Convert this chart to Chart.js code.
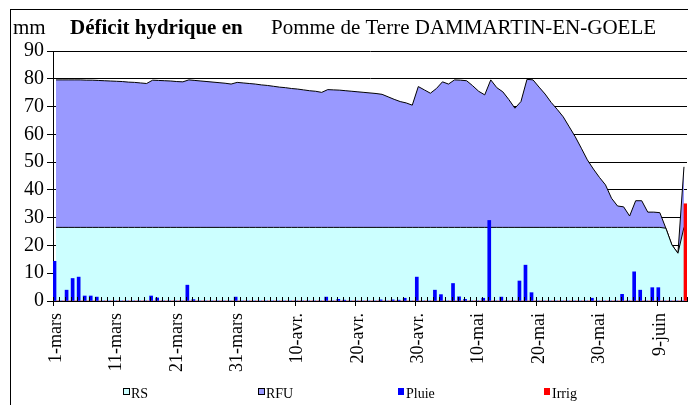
<!DOCTYPE html>
<html>
<head>
<meta charset="utf-8">
<script src="https://cdn.jsdelivr.net/npm/chart.js@4.4.1/dist/chart.umd.min.js"></script>
<style>
  body { margin: 0; background: #fff; }
  canvas { display: block; }
</style>
</head>
<body>
<canvas id="chart" width="688" height="405"></canvas>
<script>
// dates 1-mars .. 13-juin, one per day
const months = [['mars', 31], ['avr.', 30], ['mai', 31], ['juin', 13]];
const days = [];
months.forEach(([m, n]) => { for (let d = 1; d <= n; d++) days.push(d + '-' + m); });

const yTicks = [0, 10, 20, 30, 40, 50, 60, 70, 80, 90];

// RS (réserve de survie)
const rs = [
  26.5, 26.5, 26.5, 26.5, 26.5, 26.5, 26.5, 26.5, 26.5, 26.5,
  26.5, 26.5, 26.5, 26.5, 26.5, 26.5, 26.5, 26.5, 26.5, 26.5,
  26.5, 26.5, 26.5, 26.5, 26.5, 26.5, 26.5, 26.5, 26.5, 26.5,
  26.5, 26.5, 26.5, 26.5, 26.5, 26.5, 26.5, 26.5, 26.5, 26.5,
  26.5, 26.5, 26.5, 26.5, 26.5, 26.5, 26.5, 26.5, 26.5, 26.5,
  26.5, 26.5, 26.5, 26.5, 26.5, 26.5, 26.5, 26.5, 26.5, 26.5,
  26.5, 26.5, 26.5, 26.5, 26.5, 26.5, 26.5, 26.5, 26.5, 26.5,
  26.5, 26.5, 26.5, 26.5, 26.5, 26.5, 26.5, 26.5, 26.5, 26.5,
  26.5, 26.5, 26.5, 26.5, 26.5, 26.5, 26.5, 26.5, 26.5, 26.5,
  26.5, 26.5, 26.5, 26.5, 26.5, 26.5, 26.5, 26.5, 26.5, 26.5,
  26.5, 26.2, 20.2, 17.2, 26.5
];

// RFU, stacked on top of RS
const rfu = [
  53.1, 53.1, 53.1, 53.1, 53.1, 53.0, 53.0, 52.9, 52.8, 52.7,
  52.6, 52.5, 52.3, 52.2, 52.0, 51.8, 53.0, 52.9, 52.8, 52.7,
  52.5, 52.4, 53.1, 52.9, 52.7, 52.5, 52.3, 52.1, 51.9, 51.6,
  52.2, 52.0, 51.8, 51.6, 51.3, 51.1, 50.8, 50.5, 50.3, 50.0,
  49.8, 49.5, 49.2, 49.0, 48.6, 49.6, 49.5, 49.4, 49.2, 49.0,
  48.8, 48.6, 48.4, 48.2, 47.9, 47.0, 46.1, 45.3, 44.8, 44.0,
  50.7, 49.5, 48.3, 50.0, 52.4, 51.6, 53.1, 53.0, 52.8, 51.0,
  49.0, 47.7, 53.1, 50.3, 48.8, 46.0, 42.9, 45.3, 53.3, 53.1,
  50.5, 48.0, 45.0, 42.5, 39.8, 36.2, 32.6, 28.5, 24.3, 21.0,
  18.0, 15.3, 10.5, 7.7, 7.4, 4.1, 9.6, 9.6, 5.5, 5.5,
  5.3, 0, 0, 0, 21.8
];

const pluie = [
  14.3, 0, 3.9, 8.1, 8.6, 1.8, 1.8, 1.4, 0, 0,
  0, 0, 0, 0, 0, 0, 1.8, 1.1, 0, 0,
  0, 0, 5.7, 0.5, 0, 0, 0, 0, 0, 0,
  1.4, 0, 0, 0, 0, 0, 0, 0, 0, 0,
  0, 0, 0, 0, 0, 1.4, 0, 0.6, 0.3, 0,
  0, 0, 0, 0, 0.4, 0, 0.4, 0.3, 1.0, 0,
  8.6, 0, 0, 3.9, 2.3, 0, 6.3, 1.5, 0.6, 0,
  0, 1.0, 29, 0, 1.4, 0, 0, 7.2, 12.9, 3.0,
  0, 0, 0, 0, 0, 0, 0, 0, 0, 1.0,
  0, 0, 0, 0, 2.4, 0, 10.5, 3.9, 0, 4.8,
  4.8, 0, 0, 0, 0
];

const irrig = [
  0, 0, 0, 0, 0, 0, 0, 0, 0, 0,
  0, 0, 0, 0, 0, 0, 0, 0, 0, 0,
  0, 0, 0, 0, 0, 0, 0, 0, 0, 0,
  0, 0, 0, 0, 0, 0, 0, 0, 0, 0,
  0, 0, 0, 0, 0, 0, 0, 0, 0, 0,
  0, 0, 0, 0, 0, 0, 0, 0, 0, 0,
  0, 0, 0, 0, 0, 0, 0, 0, 0, 0,
  0, 0, 0, 0, 0, 0, 0, 0, 0, 0,
  0, 0, 0, 0, 0, 0, 0, 0, 0, 0,
  0, 0, 0, 0, 0, 0, 0, 0, 0, 0,
  0, 0, 0, 0, 35
];

const serif = '"Liberation Serif", "Times New Roman", serif';

// frame, titles and legend drawn around the plot
const decorations = {
  id: 'decorations',
  afterDraw(chart) {
    const ctx = chart.ctx;
    ctx.save();
    ctx.strokeStyle = '#000';
    ctx.lineWidth = 1;
    ctx.strokeRect(10.5, 9.5, 700, 500);

    ctx.fillStyle = '#000';
    ctx.textBaseline = 'alphabetic';
    ctx.font = '21px ' + serif;
    ctx.fillText('mm', 13, 34);
    ctx.font = 'bold 21px ' + serif;
    ctx.fillText('Déficit hydrique en', 70, 34);
    ctx.font = '21px ' + serif;
    ctx.fillText('Pomme de Terre DAMMARTIN-EN-GOELE', 271, 34);

    // legend
    const xs = [123, 258, 398, 544];
    ctx.font = '14px ' + serif;
    chart.data.datasets.forEach((ds, i) => {
      const x = xs[i];
      ctx.fillStyle = ds.backgroundColor;
      ctx.fillRect(x, 388, 6, 7);
      if (ds.type === 'line') {
        ctx.strokeStyle = '#000';
        ctx.strokeRect(x + 0.5, 388.5, 6, 6);
      }
      ctx.fillStyle = '#000';
      ctx.fillText(ds.label, x + 8, 398);
    });
    ctx.restore();
  }
};

// small tick marks on every day, longer ones every 10 days
const dayTicks = {
  id: 'dayTicks',
  afterDatasetsDraw(chart) {
    const { ctx, chartArea, scales: { x } } = chart;
    const half = (x.getPixelForValue(1) - x.getPixelForValue(0)) / 2;
    ctx.save();
    ctx.strokeStyle = '#000';
    ctx.lineWidth = 1;
    ctx.beginPath();
    for (let i = 0; i <= days.length; i++) {
      const px = Math.round(x.getPixelForValue(i) - half) + 0.5;
      ctx.moveTo(px, chartArea.bottom);
      ctx.lineTo(px, chartArea.bottom - 4);
      if (i % 10 === 0) {
        ctx.moveTo(px, chartArea.bottom);
        ctx.lineTo(px, chartArea.bottom + 5);
      }
    }
    ctx.stroke();
    ctx.restore();
  }
};

new Chart(document.getElementById('chart'), {
  data: {
    labels: days,
    datasets: [
      {
        type: 'line', label: 'RS', data: rs, stack: 'a', order: 1,
        backgroundColor: '#CCFFFF', borderColor: '#000', borderWidth: 1,
        pointRadius: 0, fill: 'origin', tension: 0
      },
      {
        type: 'line', label: 'RFU', data: rfu, stack: 'a', order: 2,
        backgroundColor: '#9999FF', borderColor: '#000', borderWidth: 1,
        pointRadius: 0, fill: '-1', tension: 0
      },
      {
        type: 'bar', label: 'Pluie', data: pluie, stack: 'p', order: 0,
        backgroundColor: '#0000FF', categoryPercentage: 1, barPercentage: 1
      },
      {
        type: 'bar', label: 'Irrig', data: irrig, stack: 'i', order: 0,
        backgroundColor: '#FF0000', categoryPercentage: 1, barPercentage: 1
      }
    ]
  },
  options: {
    responsive: false,
    animation: false,
    layout: { padding: { top: 51, left: 0, right: 1, bottom: 0 } },
    plugins: {
      legend: { display: false },
      title: { display: false },
      tooltip: { enabled: false }
    },
    scales: {
      x: {
        offset: true,
        grid: { display: false },
        border: { display: true, color: '#000', width: 1 },
        ticks: {
          autoSkip: false,
          maxRotation: 90,
          minRotation: 90,
          padding: 4,
          color: '#000',
          font: { family: serif, size: 18 },
          callback: function (v, i) { return i % 10 === 0 ? days[i] : ''; }
        },
        afterFit: s => { s.height = 104; s.paddingLeft = 0; s.paddingRight = 0; }
      },
      y: {
        stacked: true,
        min: 0,
        max: 90,
        afterBuildTicks: s => { s.ticks = yTicks.map(v => ({ value: v })); },
        grid: { color: '#000', lineWidth: 1, tickLength: 6, drawTicks: true },
        border: { display: true, color: '#000', width: 1 },
        ticks: {
          autoSkip: false,
          padding: 3,
          color: '#000',
          font: { family: serif, size: 20 }
        },
        afterFit: s => { s.width = 53; }
      }
    }
  },
  plugins: [decorations, dayTicks]
});
</script>
</body>
</html>
